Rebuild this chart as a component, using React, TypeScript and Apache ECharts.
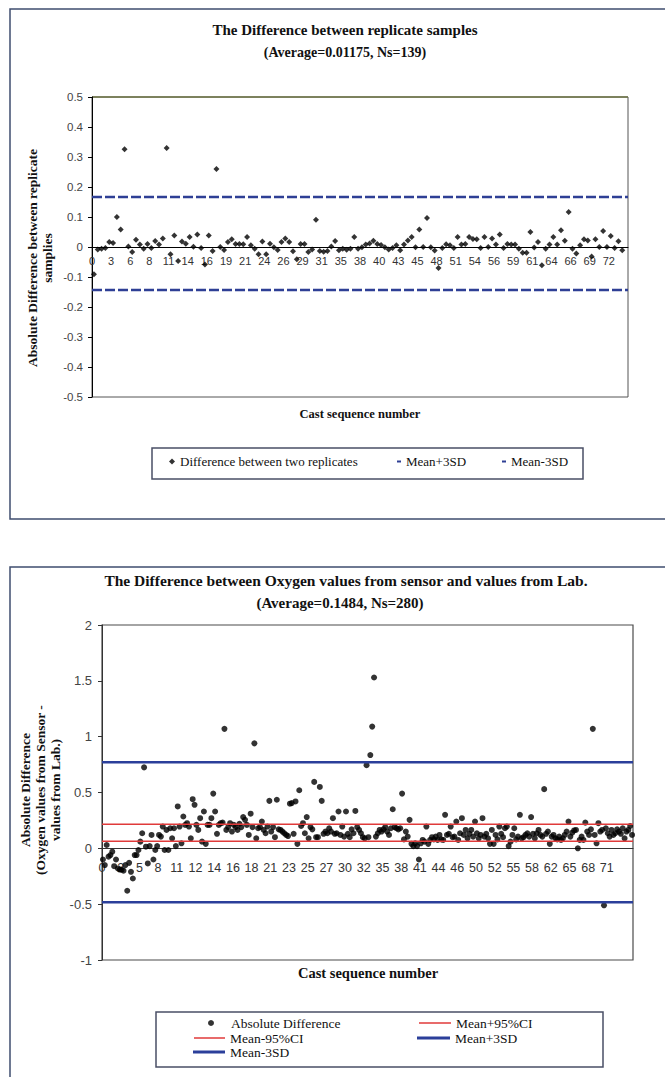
import React, { useEffect, useRef } from "react";
import * as echarts from "echarts";

// ---------- DATA ----------
const topCastLabels = ["0","3","6","8","11","14","16","19","21","24","26","29","31","35","38","40","43","45","48","51","54","56","59","61","64","66","69","72"];
const topDiff = [
  -0.091, -0.008, -0.006, -0.003, 0.017, 0.013, 0.100, 0.058, 0.326, 0.002,
  -0.017, 0.024, 0.008, -0.006, 0.010, -0.003, 0.020, 0.008, 0.028, 0.330,
  -0.024, 0.038, -0.047, 0.018, 0.011, 0.033, 0.001, 0.042, -0.003, -0.058,
  0.038, -0.013, 0.260, 0.000, -0.010, 0.017, 0.026, 0.010, 0.010, 0.009,
  0.033, 0.006, -0.006, -0.024, 0.018, -0.024, 0.011, -0.001, -0.010, 0.017,
  0.028, 0.017, -0.014, -0.041, 0.010, 0.010, -0.017, -0.008, 0.091, -0.013,
  -0.016, -0.013, 0.002, 0.020, -0.011, -0.006, -0.009, -0.006, 0.033, -0.006,
  -0.001, 0.008, 0.012, 0.021, 0.010, 0.007, -0.001, -0.008, -0.003, 0.006,
  -0.011, 0.008, 0.022, 0.033, -0.001, 0.058, 0.000, 0.097, -0.001, -0.012,
  -0.070, -0.003, 0.009, 0.006, -0.003, 0.033, 0.008, 0.010, 0.033, 0.027,
  0.026, -0.003, 0.033, 0.000, 0.028, 0.008, 0.042, -0.003, 0.010, 0.008,
  0.008, -0.006, -0.019, -0.019, 0.050, -0.002, 0.017, -0.061, -0.006, 0.008,
  0.033, 0.008, 0.056, 0.021, 0.117, -0.006, -0.022, 0.006, 0.026, 0.022,
  -0.032, 0.026, 0.000, 0.053, 0.000, 0.037, -0.003, 0.019, -0.011,
];
const topMeanPlus3SD = 0.167;
const topMeanMinus3SD = -0.143;

const bottomCastLabels = ["0","2","5","8","11","12","14","16","18","21","23","25","27","30","32","35","38","41","44","46","50","52","55","58","62","65","68","71"];
const bottomDiff = [
  -0.10, -0.15, 0.03, -0.075, -0.06, -0.03, -0.16, -0.10, -0.18, -0.19,
  -0.19, -0.20, -0.15, -0.38, -0.13, -0.21, -0.27, -0.06,
  -0.06, -0.015, 0.06, 0.135, 0.725, 0.015, -0.135, 0.02, 0.12, -0.10,
  -0.015, 0.02, 0.12, 0.105, 0.195, -0.015, 0.165, -0.015, 0.18, 0.09,
  0.18, 0.02, 0.375, 0.195, 0.045, 0.285, 0.21, 0.225, 0.195, 0.09,
  0.44, 0.39, 0.21, 0.165, 0.27, 0.06, 0.33, 0.04, 0.21,
  0.21, 0.27, 0.49, 0.33, 0.13, 0.21, 0.225, 0.23, 1.07, 0.165,
  0.19, 0.225, 0.15, 0.21, 0.19, 0.165, 0.22, 0.19, 0.28, 0.255,
  0.21, 0.12, 0.31, 0.19, 0.94, 0.09, 0.18, 0.19, 0.24, 0.165,
  0.135, 0.195, 0.425, 0.15, 0.19, 0.10, 0.435, 0.17,
  0.165, 0.15, 0.135, 0.12, 0.11, 0.40, 0.405, 0.13, 0.42, 0.04,
  0.52, 0.20, 0.225, 0.135, 0.28, 0.09, 0.19, 0.17,
  0.595, 0.10, 0.10, 0.55, 0.425, 0.13, 0.15, 0.135, 0.18, 0.15,
  0.27, 0.13, 0.135, 0.33, 0.12, 0.195, 0.105,
  0.33, 0.13, 0.10, 0.17, 0.135, 0.335, 0.19, 0.165, 0.135, 0.10,
  0.09, 0.745, 0.10, 0.835, 1.09, 1.53, 0.105, 0.135, 0.165,
  0.15, 0.17, 0.19, 0.15, 0.12, 0.18, 0.35, 0.19, 0.18, 0.17,
  0.18, 0.49, 0.08, 0.15, 0.105, 0.255, 0.04, 0.02, 0.045,
  0.02, -0.10, 0.045, 0.075, 0.06, 0.195, 0.04, 0.075, 0.10, 0.08,
  0.105, 0.075, 0.12, 0.08, 0.075, 0.30, 0.12, 0.13,
  0.195, 0.10, 0.105, 0.24, 0.075, 0.135, 0.27, 0.12, 0.165, 0.09,
  0.13, 0.165, 0.105, 0.24, 0.135, 0.09, 0.12,
  0.27, 0.105, 0.13, 0.09, 0.04, 0.165, 0.04, 0.12, 0.08, 0.195,
  0.13, 0.10, 0.18, 0.195, 0.02, 0.06, 0.12, 0.18,
  0.08, 0.105, 0.30, 0.09, 0.10, 0.12, 0.135, 0.105, 0.28, 0.13,
  0.09, 0.135, 0.165, 0.12, 0.105, 0.53, 0.13, 0.15,
  0.04, 0.105, 0.12, 0.09, 0.08, 0.105, 0.075, 0.09, 0.12, 0.15,
  0.24, 0.105, 0.14, 0.16, 0.165, 0.0, 0.075, 0.105,
  0.075, 0.23, 0.15, 0.12, 0.17, 1.07, 0.12, 0.045, 0.225, 0.15,
  0.165, -0.51, 0.18, 0.135, 0.105, 0.165, 0.12, 0.135,
  0.17, 0.15, 0.13, 0.18, 0.09, 0.15, 0.165, 0.20, 0.12,
];
const bottomMeanPlus95CI = 0.215;
const bottomMeanMinus95CI = 0.063;
const bottomMeanPlus3SD = 0.77;
const bottomMeanMinus3SD = -0.483;

// ---------- STYLE ----------
const serif = '"Liberation Serif", "Times New Roman", serif';
const sans = '"Liberation Sans", Arial, sans-serif';
const TOP_XMAX = 140;
const BOT_XMAX = 284;
const dashBlue = "#2e3f95";
const solidBlue = "#2b3f9a";
const red = "#e03a3a";

function labelFrom(labels: string[], step: number) {
  return (v: number) => {
    const k = Math.round(v / step);
    if (Math.abs(v - k * step) > 1e-6 || k < 0 || k >= labels.length) return "";
    return labels[k];
  };
}

export default function App() {
  const ref = useRef<HTMLDivElement>(null);
  useEffect(() => {
    if (!ref.current) return;
    const chart = echarts.init(ref.current, undefined, { renderer: "svg" });
    const titleStyle = (size: number) => ({ fontFamily: serif, fontSize: size, fontWeight: "bold", color: "#111" });
    const legendText = (size: number) => ({ fontFamily: serif, fontSize: size, color: "#111" });
    const option: any = {
      animation: false,
      backgroundColor: "#ffffff",
      title: [
        { text: "The Difference between replicate samples", left: 345, top: 22, textAlign: "center", padding: 0, textStyle: titleStyle(15) },
        { text: "(Average=0.01175, Ns=139)", left: 345, top: 45, textAlign: "center", padding: 0, textStyle: titleStyle(14) },
        { text: "Cast sequence number", left: 360, top: 407, textAlign: "center", padding: 0, textStyle: titleStyle(12.5) },
        { text: "The Difference between Oxygen values from sensor and values from Lab.", left: 346, top: 572, textAlign: "center", padding: 0, textStyle: titleStyle(15.5) },
        { text: "(Average=0.1484, Ns=280)", left: 340, top: 595, textAlign: "center", padding: 0, textStyle: titleStyle(15) },
        { text: "Cast sequence number", left: 368, top: 965, textAlign: "center", padding: 0, textStyle: titleStyle(14.5) },
      ],
      legend: [
        { data: [{ name: "Difference between two replicates", icon: "diamond", itemStyle: { color: "#000" } }], left: 169, top: 455, itemWidth: 6, itemHeight: 6, padding: 0, selectedMode: false, textStyle: legendText(13) },
        { data: [{ name: "Mean+3SD", icon: "rect", itemStyle: { color: dashBlue } }], left: 397, top: 455, itemWidth: 4, itemHeight: 2, padding: 0, selectedMode: false, textStyle: legendText(13) },
        { data: [{ name: "Mean-3SD", icon: "rect", itemStyle: { color: dashBlue } }], left: 502, top: 455, itemWidth: 4, itemHeight: 2, padding: 0, selectedMode: false, textStyle: legendText(13) },
        { data: [{ name: "Absolute Difference", icon: "circle", itemStyle: { color: "#000" } }], left: 208, top: 1016, itemWidth: 30, itemHeight: 6, padding: 0, selectedMode: false, textStyle: legendText(13.5) },
        { data: [{ name: "Mean+95%CI", icon: "rect", itemStyle: { color: red } }], left: 419, top: 1016, itemWidth: 32, itemHeight: 1.5, padding: 0, selectedMode: false, textStyle: legendText(13.5) },
        { data: [{ name: "Mean-95%CI", icon: "rect", itemStyle: { color: red } }], left: 194, top: 1031, itemWidth: 31, itemHeight: 1.5, padding: 0, selectedMode: false, textStyle: legendText(13.5) },
        { data: [{ name: "Mean+3SD", icon: "rect", itemStyle: { color: solidBlue } }], left: 417, top: 1031, itemWidth: 33, itemHeight: 3, padding: 0, selectedMode: false, textStyle: legendText(13.5) },
        { data: [{ name: "Mean-3SD", icon: "rect", itemStyle: { color: solidBlue } }], left: 193, top: 1045, itemWidth: 32, itemHeight: 3, padding: 0, selectedMode: false, textStyle: legendText(13.5) },
      ],
      grid: [
        { left: 92, top: 97, width: 536, height: 300, show: true, borderColor: "#555", borderWidth: 1, containLabel: false },
        { left: 102, top: 625, width: 531, height: 335, show: true, borderColor: "#4b4b4b", borderWidth: 1.2, containLabel: false },
      ],
      xAxis: [
        {
          gridIndex: 0, type: "value", min: 0, max: TOP_XMAX, interval: 5,
          axisLine: { onZero: true, lineStyle: { color: "#000", width: 1 } },
          axisTick: { show: false }, splitLine: { show: false }, axisLabel: { show: false },
        },
        {
          gridIndex: 1, type: "value", min: 0, max: BOT_XMAX, interval: 10,
          axisLine: { onZero: true, lineStyle: { color: "#333", width: 1.2 } },
          axisTick: { show: false }, splitLine: { show: false }, axisLabel: { show: false },
        },
        {
          gridIndex: 0, type: "value", min: 0, max: TOP_XMAX, interval: 5, position: "bottom", offset: -150,
          axisLine: { show: false, onZero: false }, axisTick: { show: false }, splitLine: { show: false },
          axisLabel: { formatter: labelFrom(topCastLabels, 5), fontFamily: sans, fontSize: 11, color: "#333", margin: 8 },
        },
        {
          gridIndex: 1, type: "value", min: 0, max: BOT_XMAX, interval: 10, position: "bottom", offset: -112,
          axisLine: { show: false, onZero: false }, axisTick: { show: false }, splitLine: { show: false },
          axisLabel: { formatter: labelFrom(bottomCastLabels, 10), fontFamily: sans, fontSize: 12.5, color: "#333", margin: 13 },
        },
      ],
      yAxis: [
        {
          gridIndex: 0, type: "value", min: -0.5, max: 0.5, interval: 0.1,
          axisLine: { show: true, lineStyle: { color: "#000" } },
          axisTick: { show: true, length: 4, lineStyle: { color: "#000" } },
          splitLine: { show: false },
          axisLabel: { formatter: (v: number) => String(Math.round(v * 10) / 10), fontFamily: sans, fontSize: 11.5, color: "#444", margin: 9 },
        },
        {
          gridIndex: 1, type: "value", min: -1, max: 2, interval: 0.5,
          axisLine: { show: true, lineStyle: { color: "#333" } },
          axisTick: { show: true, length: 4, lineStyle: { color: "#333" } },
          splitLine: { show: false },
          axisLabel: { formatter: (v: number) => String(Math.round(v * 10) / 10), fontFamily: sans, fontSize: 13, color: "#444", margin: 10 },
        },
      ],
      series: [
        { name: "Mean+3SD", type: "line", xAxisIndex: 0, yAxisIndex: 0, data: [[0, topMeanPlus3SD], [TOP_XMAX, topMeanPlus3SD]], symbol: "none", color: dashBlue, lineStyle: { color: dashBlue, width: 2.5, type: [10, 3] } },
        { name: "Mean-3SD", type: "line", xAxisIndex: 0, yAxisIndex: 0, data: [[0, topMeanMinus3SD], [TOP_XMAX, topMeanMinus3SD]], symbol: "none", color: dashBlue, lineStyle: { color: dashBlue, width: 2.5, type: [10, 3] } },
        { name: "Difference between two replicates", type: "scatter", xAxisIndex: 0, yAxisIndex: 0, data: topDiff.map((v, i) => [i + 0.5, v]), symbol: "diamond", symbolSize: 6, itemStyle: { color: "#000" } },
        { name: "Mean+95%CI", type: "line", xAxisIndex: 1, yAxisIndex: 1, data: [[0, bottomMeanPlus95CI], [BOT_XMAX, bottomMeanPlus95CI]], symbol: "none", color: red, lineStyle: { color: red, width: 1.5 } },
        { name: "Mean-95%CI", type: "line", xAxisIndex: 1, yAxisIndex: 1, data: [[0, bottomMeanMinus95CI], [BOT_XMAX, bottomMeanMinus95CI]], symbol: "none", color: red, lineStyle: { color: red, width: 1.5 } },
        { name: "Mean+3SD", type: "line", xAxisIndex: 1, yAxisIndex: 1, data: [[0, bottomMeanPlus3SD], [BOT_XMAX, bottomMeanPlus3SD]], symbol: "none", color: solidBlue, lineStyle: { color: solidBlue, width: 2.5 } },
        { name: "Mean-3SD", type: "line", xAxisIndex: 1, yAxisIndex: 1, data: [[0, bottomMeanMinus3SD], [BOT_XMAX, bottomMeanMinus3SD]], symbol: "none", color: solidBlue, lineStyle: { color: solidBlue, width: 2.5 } },
        { name: "Absolute Difference", type: "scatter", xAxisIndex: 1, yAxisIndex: 1, data: bottomDiff.map((v, i) => [i + 0.5, v]), symbol: "circle", symbolSize: 6, itemStyle: { color: "#000" } },
      ],
      graphic: {
        elements: [
          { type: "rect", shape: { x: 10, y: 9, width: 700, height: 510 }, style: { fill: "none", stroke: "#3f4d6f", lineWidth: 1.5 }, silent: true },
          { type: "rect", shape: { x: 10, y: 567, width: 700, height: 600 }, style: { fill: "none", stroke: "#3f4d6f", lineWidth: 1.5 }, silent: true },
          { type: "line", shape: { x1: 92, y1: 97, x2: 628, y2: 97 }, style: { stroke: "#6e7444", lineWidth: 1.5 }, silent: true },
          { type: "rect", shape: { x: 152, y: 448, width: 431, height: 31 }, style: { fill: "none", stroke: "#4a4f66", lineWidth: 1.5 }, silent: true },
          { type: "rect", shape: { x: 156, y: 1012, width: 447, height: 55 }, style: { fill: "none", stroke: "#4a4f66", lineWidth: 1.5 }, silent: true },
          {
            type: "text", x: 40, y: 258, rotation: Math.PI / 2, silent: true,
            style: { text: "Absolute Difference between replicate\nsamplies", font: `bold 13.5px ${serif}`, fill: "#111", textAlign: "center", textVerticalAlign: "middle", lineHeight: 15 },
          },
          {
            type: "text", x: 40, y: 790, rotation: Math.PI / 2, silent: true,
            style: { text: "Absolute Difference\n(Oxygen values from Sensor -\nvalues from Lab.)", font: `bold 13.5px ${serif}`, fill: "#111", textAlign: "center", textVerticalAlign: "middle", lineHeight: 15 },
          },
        ],
      },
    };
    chart.setOption(option);
    return () => chart.dispose();
  }, []);
  return <div ref={ref} style={{ position: "absolute", left: 0, top: 0, width: 665, height: 1077 }} />;
}
